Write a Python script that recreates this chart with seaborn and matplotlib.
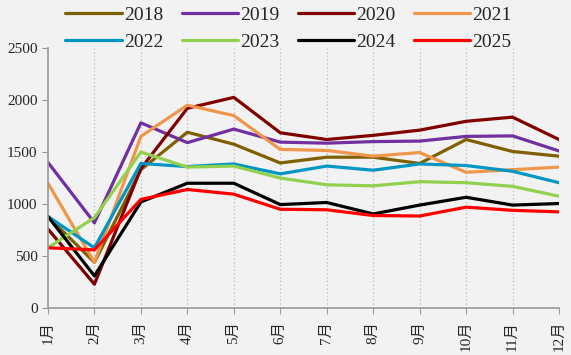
import pandas as pd
import seaborn as sns
import matplotlib.pyplot as plt

sns.set_style('white')
plt.rcParams['font.family'] = ['Liberation Serif', 'Noto Sans CJK SC', 'DejaVu Sans']

months = ['1月', '2月', '3月', '4月', '5月', '6月', '7月', '8月', '9月', '10月', '11月', '12月']
years = ['2018', '2019', '2020', '2021', '2022', '2023', '2024', '2025']

y2018 = [880, 440, 1330, 1690, 1575, 1395, 1450, 1450, 1390, 1620, 1505, 1460]
y2019 = [1400, 820, 1780, 1590, 1720, 1595, 1585, 1600, 1605, 1650, 1655, 1510]
y2020 = [760, 230, 1340, 1920, 2025, 1685, 1620, 1660, 1710, 1795, 1835, 1620]
y2021 = [1200, 440, 1650, 1950, 1850, 1525, 1515, 1460, 1495, 1305, 1330, 1355]
y2022 = [880, 580, 1390, 1360, 1385, 1290, 1365, 1325, 1385, 1370, 1315, 1205]
y2023 = [580, 870, 1500, 1355, 1365, 1250, 1185, 1175, 1215, 1205, 1170, 1075]
y2024 = [880, 310, 1020, 1200, 1200, 995, 1015, 905, 990, 1065, 990, 1005]
y2025 = [580, 560, 1045, 1140, 1095, 950, 945, 890, 885, 970, 940, 925]

colors = ['#7F6000', '#7030A0', '#800000', '#F0964A',
          '#0096C3', '#92D050', '#000000', '#FF0000']

series = [y2018, y2019, y2020, y2021, y2022, y2023, y2024, y2025]
rows = []
for yr, vals in zip(years, series):
    for i, v in enumerate(vals):
        rows.append({'month': i, 'year': yr, 'value': v})
df = pd.DataFrame(rows)

fig = plt.figure(figsize=(5.71, 3.55), dpi=100, facecolor='#F2F2F2')
ax = fig.add_axes([0.084, 0.132, 0.895, 0.733])
ax.set_facecolor('#F2F2F2')

sns.lineplot(data=df, x='month', y='value', hue='year', hue_order=years,
             palette=dict(zip(years, colors)), linewidth=2.3, sort=False,
             legend=True, ax=ax)

ax.set_xlim(0, 11)
ax.set_ylim(0, 2500)
ax.set_xticks(range(12))
ax.set_xticklabels(months, rotation=90, fontsize=11)
ax.set_yticks(range(0, 2501, 500))
ax.tick_params(axis='y', labelsize=11, length=4, color='#999999', direction='out', left=True)
ax.tick_params(axis='x', length=4, color='#999999', direction='out', bottom=True, pad=5)
ax.set_xlabel('')
ax.set_ylabel('')
for i in range(1, 12):
    ax.axvline(i, color='#C0C0C0', linestyle=(0, (1.2, 1.8)), linewidth=0.9, zorder=0)
for s in ['top', 'right']:
    ax.spines[s].set_visible(False)
for s in ['left', 'bottom']:
    ax.spines[s].set_color('#999999')
    ax.spines[s].set_linewidth(1.2)

# legend filled row by row: 2018-2021 on top, 2022-2025 below
handles, labels = ax.get_legend_handles_labels()
ax.legend_.remove()
order = [0, 4, 1, 5, 2, 6, 3, 7]
fig.legend([handles[i] for i in order], [labels[i] for i in order], ncol=4,
           loc='upper center', bbox_to_anchor=(0.505, 1.031),
           frameon=False, fontsize=14, handlelength=2.9, handletextpad=0.1,
           columnspacing=0.95, labelspacing=0.47)

fig.savefig('out.png', dpi=100, facecolor=fig.get_facecolor())
